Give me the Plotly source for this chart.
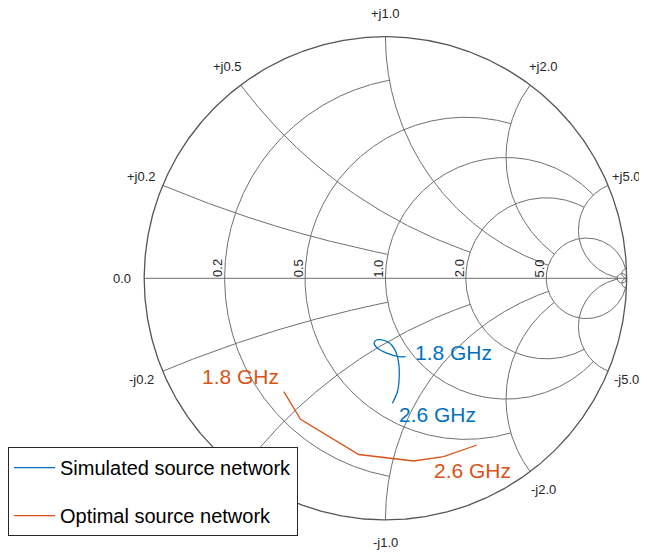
import numpy as np
import plotly.graph_objects as go

# ---- Grid definition (Smith chart, coarse grid) ----
r_grid_values = [0.2, 0.5, 1.0, 2.0, 5.0, 50.0]
r_grid_limits = [1.0, 2.0, 5.0, 5.0, 50.0, np.inf]   # |x| extent of each resistance circle
x_grid_values = [0.2, 0.5, 1.0, 2.0, 5.0, 50.0]
x_grid_limits = [1.0, 2.0, 5.0, 5.0, 50.0, np.inf]   # r extent of each reactance arc

real_tick_labels = ["0.2", "0.5", "1.0", "2.0", "5.0"]
real_tick_values = [0.2, 0.5, 1.0, 2.0, 5.0]
imag_tick_values = [0.2, 0.5, 1.0, 2.0, 5.0]
imag_pos_labels = ["+j0.2", "+j0.5", "+j1.0", "+j2.0", "+j5.0"]
# "-j0.5" is hidden behind the legend in the original
imag_neg_labels = ["-j0.2", None, "-j1.0", "-j2.0", "-j5.0"]

# ---- Data: reflection coefficient (Gamma) ----
sim_gamma_re = [0.084, 0.0567, 0.0083, -0.0331, -0.0468, -0.0373, -0.0195,
                0.0153, 0.0360, 0.0497, 0.0567, 0.0567, 0.0497, 0.0290]
sim_gamma_im = [-0.3245, -0.3245, -0.3104, -0.2897, -0.2690, -0.2554, -0.2541,
                -0.2666, -0.2897, -0.3245, -0.3659, -0.4209, -0.4694, -0.5174]

opt_gamma_re = [-0.421, -0.352, -0.1105, 0.1171, 0.2413, 0.3795]
opt_gamma_im = [-0.469, -0.5836, -0.7293, -0.7562, -0.7384, -0.690]

BLUE = "#0072BD"
ORANGE = "#D95319"
TEXT = "#262626"
GRID = "#6f6f6f"
FONT = "Liberation Sans, Arial, sans-serif"


def gamma(z):
    return (z - 1) / (z + 1)


gx, gy = [], []
# resistance circles
for r, lim in zip(r_grid_values, r_grid_limits):
    t = np.linspace(-np.arctan(lim), np.arctan(lim), 801)
    g = gamma(r + 1j * np.tan(t))
    gx += list(g.real) + [None]
    gy += list(g.imag) + [None]
# reactance arcs
for x, lim in zip(x_grid_values, x_grid_limits):
    for s in (1, -1):
        t = np.linspace(0, np.arctan(lim), 601)
        g = gamma(np.tan(t) + 1j * s * x)
        gx += list(g.real) + [None]
        gy += list(g.imag) + [None]
# real axis
gx += [-1, 1, None]
gy += [0, 0, None]

theta = np.linspace(0, 2 * np.pi, 721)

fig = go.Figure()
fig.add_trace(go.Scatter(x=gx, y=gy, mode="lines", line=dict(color=GRID, width=1),
                         hoverinfo="skip", showlegend=False))
fig.add_trace(go.Scatter(x=np.cos(theta), y=np.sin(theta), mode="lines",
                         line=dict(color="#555555", width=1.3),
                         hoverinfo="skip", showlegend=False))

fig.add_trace(go.Scatter(x=sim_gamma_re, y=sim_gamma_im, mode="lines",
                         line=dict(color=BLUE, width=1.3, shape="spline", smoothing=0.8),
                         name="Simulated source network", legendgroup="a"))
fig.add_trace(go.Scatter(x=opt_gamma_re, y=opt_gamma_im, mode="lines",
                         line=dict(color=ORANGE, width=1.3),
                         name="Optimal source network", legendgroup="b"))

ann = []
lab_r = 1.094
for v, lp, ln in zip(imag_tick_values, imag_pos_labels, imag_neg_labels):
    for s, lab in ((1, lp), (-1, ln)):
        if lab is None:
            continue
        a = np.angle(gamma(1j * s * v))
        ann.append(dict(x=lab_r * np.cos(a), y=lab_r * np.sin(a), text=lab,
                        xshift=-3 if v >= 5 else 0,
                        showarrow=False, xanchor="center", yanchor="middle",
                        font=dict(family=FONT, size=13, color=TEXT)))
ann.append(dict(x=-lab_r, y=0, text="0.0", showarrow=False, xanchor="center",
                yanchor="middle", font=dict(family=FONT, size=13, color=TEXT)))
ann.append(dict(x=1.0, y=0, xshift=23, text="∞", showarrow=False, xanchor="center",
                yanchor="middle", font=dict(family=FONT, size=13, color=TEXT)))
for v, lab in zip(real_tick_values, real_tick_labels):
    ann.append(dict(x=float(gamma(v).real), y=0, text=lab, textangle=-90,
                    xshift=-7, yshift=10, showarrow=False, xanchor="center",
                    yanchor="middle", font=dict(family=FONT, size=13, color=TEXT)))

# frequency annotations
freq_labels = [
    (0.2815, -0.309, "1.8 GHz", BLUE),
    (0.215, -0.5617, "2.6 GHz", BLUE),
    (-0.600, -0.4044, "1.8 GHz", ORANGE),
    (0.360, -0.7935, "2.6 GHz", ORANGE),
]
for x, y, t, c in freq_labels:
    ann.append(dict(x=x, y=y, text=t, showarrow=False, xanchor="center",
                    yanchor="middle", font=dict(family=FONT, size=21, color=c)))

fig.update_layout(
    width=647, height=553, autosize=False,
    margin=dict(l=0, r=0, t=0, b=0),
    paper_bgcolor="white", plot_bgcolor="white",
    xaxis=dict(range=[-1.5604, 1.1175], visible=False, fixedrange=True),
    yaxis=dict(range=[-1.1701, 1.1188], visible=False, fixedrange=True),
    annotations=ann,
    showlegend=True,
    legend=dict(x=-0.0015, y=0.2061, xanchor="left", yanchor="top",
                bgcolor="white", bordercolor=TEXT, borderwidth=1,
                font=dict(family=FONT, size=20, color="black"),
                itemwidth=41,
                traceorder="grouped", tracegroupgap=19),
)

fig.write_html("out.html")
